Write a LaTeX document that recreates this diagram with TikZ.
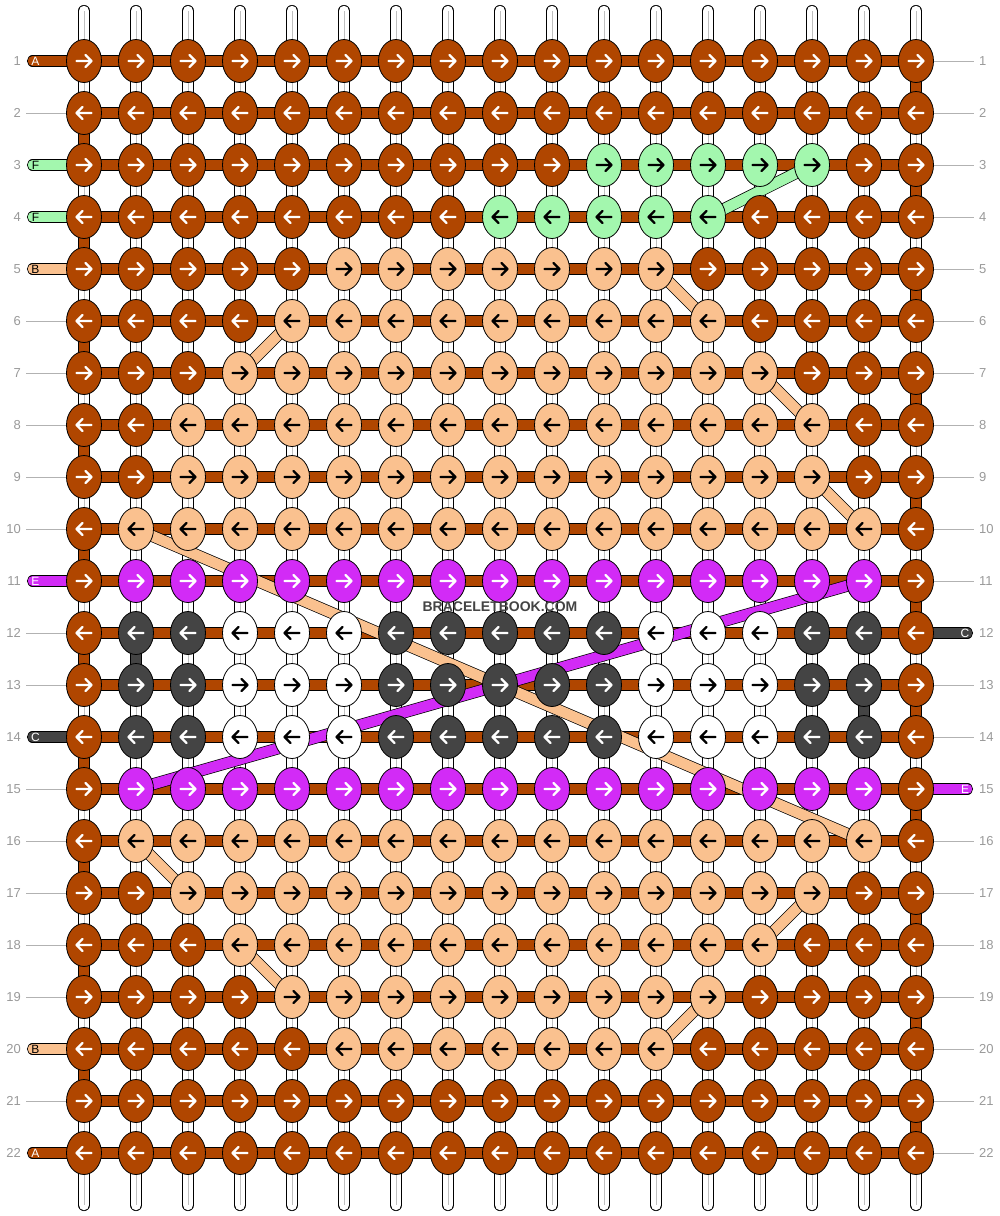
\documentclass[tikz,border=0pt]{standalone}
\usepackage{fontspec}
\setmainfont{Liberation Sans}
\usepackage{xcolor}
\usetikzlibrary{shapes.geometric, arrows.meta, positioning}

\definecolor{kA}{HTML}{B04600}
\definecolor{kB}{HTML}{FAC18F}
\definecolor{kC}{HTML}{444444}
\definecolor{kD}{HTML}{FFFFFF}
\definecolor{kE}{HTML}{D22BF6}
\definecolor{kF}{HTML}{A3F7AE}
\colorlet{tA}{white}
\colorlet{tB}{black}
\colorlet{tC}{white}
\colorlet{tD}{black}
\colorlet{tE}{white}
\colorlet{tF}{black}

\tikzset{
  knot/.style={ellipse, draw=black, line width=0.8pt, fill=k#1, minimum width=35pt, minimum height=43pt, inner sep=0pt},
  thread/.style={line width=0.8pt, draw=black, double=k#1, double distance=9.5pt},
  slant/.style={line width=0.7pt, draw=black, double=k#1, double distance=10.5pt},
  string/.style={line width=0.8pt, draw=black, double=white, double distance=10.5pt, line cap=round},
  num/.style={font=\fontsize{13}{13}\selectfont, text=black!40, inner sep=0pt},
  numline/.style={draw=black!30, line width=0.8pt},
  tagtxt/.style={font=\fontsize{12}{12}\selectfont, inner sep=0pt},
  arr/.pic={\draw[line width=2.2pt, line cap=round, line join=round] (-7.5,0) -- (7.5,0) (1.5,-6) -- (7.5,0) -- (1.5,6);}
}

\begin{document}
\begin{tikzpicture}[x=1pt, y=-1pt]
  \useasboundingbox (0,0) rectangle (1000,1216);
  \foreach \rw in {1,...,22}
    \foreach \cl in {1,...,17}
      \coordinate (p-\rw-\cl) at ({32+52*\cl}, {9+52*\rw});

  \foreach \cl in {1,...,17} {
    \coordinate (top-\cl) at ({32+52*\cl}, 11);
    \coordinate (bot-\cl) at ({32+52*\cl}, 1205);
    \draw[string] (top-\cl) -- (bot-\cl);
    \draw[black!25, line width=0.8pt] (top-\cl) -- (bot-\cl);
  }

  \foreach \rw in {1,...,22}
    \draw[thread=A] (p-\rw-1) -- (p-\rw-17);

  \foreach \rw/\k in {1/A,3/F,4/F,5/B,11/E,14/C,20/B,22/A} {
    \coordinate (tl-\rw) at (32.5, {9+52*\rw});
    \draw[thread=\k, line cap=round] (tl-\rw) -- (p-\rw-1);
  }
  \foreach \rw/\k in {12/C,15/E} {
    \coordinate (tr-\rw) at (967.5, {9+52*\rw});
    \draw[thread=\k, line cap=round] (p-\rw-17) -- (tr-\rw);
  }

  \foreach \a [evaluate=\a as \b using int(\a+1)] in {2,4,...,20}
    \draw[thread=A] (p-\a-1) -- (p-\b-1);
  \foreach \a [evaluate=\a as \b using int(\a+1)] in {1,3,...,21}
    \draw[thread=A] (p-\a-17) -- (p-\b-17);
  \draw[thread=C] (p-12-2) -- (p-13-2);
  \draw[thread=C] (p-13-16) -- (p-14-16);

  \foreach \a/\b/\k in {4-13/3-15/F, 5-12/6-13/B, 7-4/6-5/B, 7-14/8-15/B, 9-15/10-16/B,
      10-2/16-16/B, 15-2/11-16/E, 16-2/17-3/B, 18-4/19-5/B, 17-15/18-14/B, 19-13/20-12/B}
    \draw[slant=\k] (p-\a) -- (p-\b);

  \foreach \rw/\pat in {
      1/{A,A,A,A,A,A,A,A,A,A,A,A,A,A,A,A,A},
      2/{A,A,A,A,A,A,A,A,A,A,A,A,A,A,A,A,A},
      3/{A,A,A,A,A,A,A,A,A,A,F,F,F,F,F,A,A},
      4/{A,A,A,A,A,A,A,A,F,F,F,F,F,A,A,A,A},
      5/{A,A,A,A,A,B,B,B,B,B,B,B,A,A,A,A,A},
      6/{A,A,A,A,B,B,B,B,B,B,B,B,B,A,A,A,A},
      7/{A,A,A,B,B,B,B,B,B,B,B,B,B,B,A,A,A},
      8/{A,A,B,B,B,B,B,B,B,B,B,B,B,B,B,A,A},
      9/{A,A,B,B,B,B,B,B,B,B,B,B,B,B,B,A,A},
      10/{A,B,B,B,B,B,B,B,B,B,B,B,B,B,B,B,A},
      11/{A,E,E,E,E,E,E,E,E,E,E,E,E,E,E,E,A},
      12/{A,C,C,D,D,D,C,C,C,C,C,D,D,D,C,C,A},
      13/{A,C,C,D,D,D,C,C,C,C,C,D,D,D,C,C,A},
      14/{A,C,C,D,D,D,C,C,C,C,C,D,D,D,C,C,A},
      15/{A,E,E,E,E,E,E,E,E,E,E,E,E,E,E,E,A},
      16/{A,B,B,B,B,B,B,B,B,B,B,B,B,B,B,B,A},
      17/{A,A,B,B,B,B,B,B,B,B,B,B,B,B,B,A,A},
      18/{A,A,A,B,B,B,B,B,B,B,B,B,B,B,A,A,A},
      19/{A,A,A,A,B,B,B,B,B,B,B,B,B,A,A,A,A},
      20/{A,A,A,A,A,B,B,B,B,B,B,B,A,A,A,A,A},
      21/{A,A,A,A,A,A,A,A,A,A,A,A,A,A,A,A,A},
      22/{A,A,A,A,A,A,A,A,A,A,A,A,A,A,A,A,A}} {
    \pgfmathtruncatemacro\dir{2*isodd(\rw)-1}
    \foreach \k [count=\cl] in \pat {
      \node[knot=\k] (k-\rw-\cl) at (p-\rw-\cl) {};
      \pic[color=t\k, xscale=\dir] at (p-\rw-\cl) {arr};
    }
  }

  \foreach \rw in {1,...,22} {
    \node[num, anchor=east] (nl-\rw) at (21, {9+52*\rw}) {\rw};
    \node[num, anchor=west] (nr-\rw) at (979, {9+52*\rw}) {\rw};
  }
  \foreach \rw in {2,6,7,8,9,10,12,13,15,16,17,18,19,21}
    \draw[numline] ([xshift=5pt]nl-\rw.east) -- (k-\rw-1.west);
  \foreach \rw in {1,...,11,13,14,16,17,...,22}
    \draw[numline] (k-\rw-17.east) -- ([xshift=-5pt]nr-\rw.west);

  \foreach \rw/\k in {1/A,3/F,4/F,5/B,11/E,14/C,20/B,22/A}
    \node[tagtxt, text=t\k] (tg-\rw) at (35.5, {9+52*\rw}) {\k};
  \foreach \rw/\k in {12/C,15/E}
    \node[tagtxt, text=t\k] (tg-\rw) at (965, {9+52*\rw}) {\k};

  \node[font=\bfseries\fontsize{14}{14}\selectfont, text=kC] (site) at (500,607) {BRACELETBOOK.COM};
\end{tikzpicture}
\end{document}
